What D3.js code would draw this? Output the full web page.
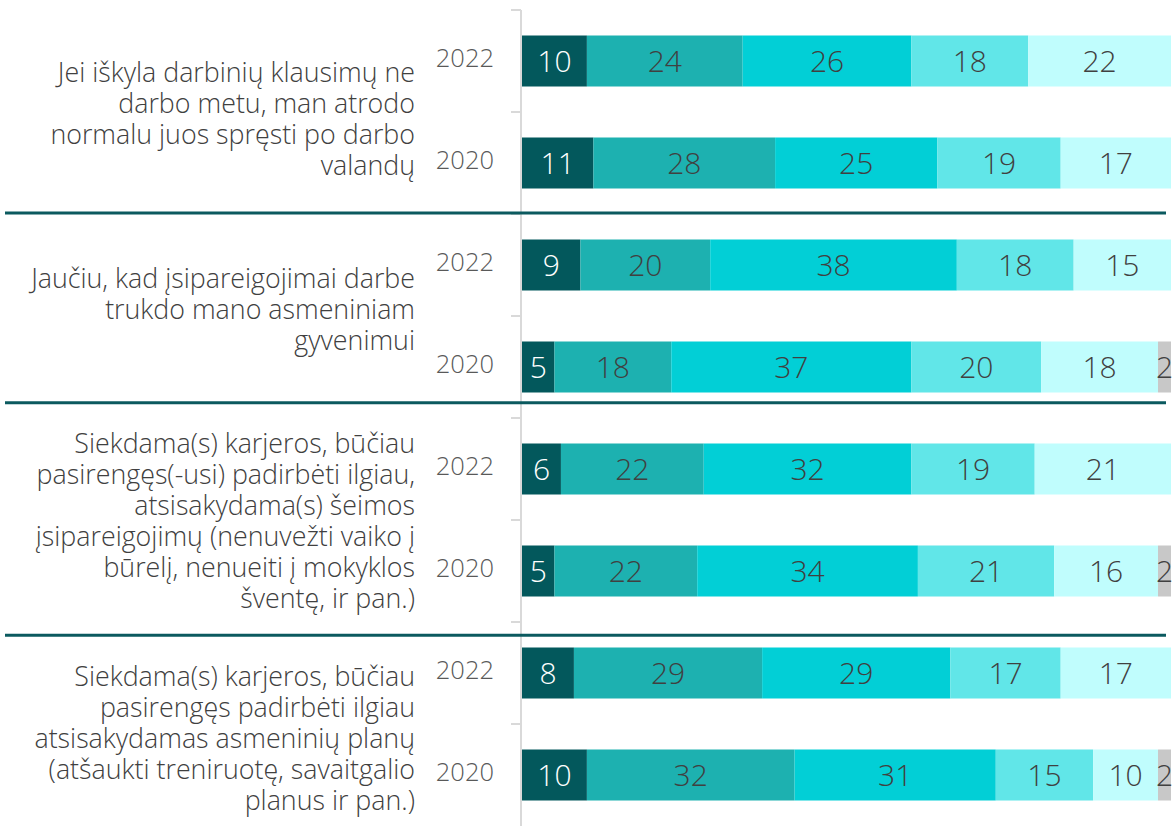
<!DOCTYPE html>
<html>
<head>
<meta charset="utf-8">
<script src="https://cdn.jsdelivr.net/npm/d3@7"></script>
<style>
    html, body { margin: 0; padding: 0; background: #fff; overflow: hidden; }
    text { font-family: "Segoe UI", "Open Sans", "Noto Sans", sans-serif; font-weight: 300; }
</style>
</head>
<body>
<div id="chart"></div>
<script>
// Statements (one per group, already broken into lines as in the picture)
const statements = [
    ["Jei iškyla darbinių klausimų ne", "darbo metu, man atrodo", "normalu juos spręsti po darbo", "valandų"],
    ["Jaučiu, kad įsipareigojimai darbe", "trukdo mano asmeniniam", "gyvenimui"],
    ["Siekdama(s) karjeros, būčiau", "pasirengęs(-usi) padirbėti ilgiau,", "atsisakydama(s) šeimos", "įsipareigojimų (nenuvežti vaiko į", "būrelį, nenueiti į mokyklos", "šventę, ir pan.)"],
    ["Siekdama(s) karjeros, būčiau", "pasirengęs padirbėti ilgiau", "atsisakydamas asmeninių planų", "(atšaukti treniruotę, savaitgalio", "planus ir pan.)"]
];
const years = ["2022", "2020"];

// Stacked segment values, one entry per bar (group1-2022, group1-2020, group2-2022, ...)
const seg1 = [10, 11, 9, 5, 6, 5, 8, 10];
const seg2 = [24, 28, 20, 18, 22, 22, 29, 32];
const seg3 = [26, 25, 38, 37, 32, 34, 29, 31];
const seg4 = [18, 19, 18, 20, 19, 21, 17, 15];
const seg5 = [22, 17, 15, 18, 21, 16, 17, 10];
const seg6 = [0, 0, 0, 2, 0, 2, 0, 2];

const W = 1176, H = 826;
const colors = ["#03585c", "#1db1b0", "#02cfd6", "#61e6e8", "#c0fdfd", "#c8c8c8"];
const keys = ["s1", "s2", "s3", "s4", "s5", "s6"];

// bars as rows
const rows = seg1.map((v, i) => ({
    id: "r" + i,
    group: Math.floor(i / 2),
    year: years[i % 2],
    s1: seg1[i], s2: seg2[i], s3: seg3[i], s4: seg4[i], s5: seg5[i], s6: seg6[i]
}));

const svg = d3.select("#chart").append("svg")
    .attr("width", W)
    .attr("height", H);

const x = d3.scaleLinear().domain([0, 100]).range([522, 1171]);
const y = d3.scaleBand().domain(rows.map(d => d.id)).range([10, 826]).paddingInner(0.5).paddingOuter(0.25);
const step = y.step();

// axis line + ticks between bars
const axisG = svg.append("g");
axisG.append("line")
    .attr("x1", 521).attr("x2", 521)
    .attr("y1", 10).attr("y2", H)
    .attr("stroke", "#d9d9d9").attr("stroke-width", 2);
axisG.selectAll(".tick")
    .data(d3.range(rows.length))
    .enter().append("line")
    .attr("class", "tick")
    .attr("x1", 511).attr("x2", 521)
    .attr("y1", i => 10 + i * step).attr("y2", i => 10 + i * step)
    .attr("stroke", "#d9d9d9").attr("stroke-width", 2);

// stacked bars
const stacked = d3.stack().keys(keys)(rows);
const layer = svg.selectAll(".layer")
    .data(stacked).enter()
    .append("g")
    .attr("class", "layer")
    .attr("fill", (d, i) => colors[i]);

layer.selectAll("rect")
    .data(d => d.filter(p => p[1] > p[0]))
    .enter().append("rect")
    .attr("x", d => x(d[0]))
    .attr("y", d => y(d.data.id))
    .attr("width", d => x(d[1]) - x(d[0]))
    .attr("height", y.bandwidth());

// value labels
stacked.forEach((s, si) => {
    svg.append("g").selectAll("text")
        .data(s.filter(p => p[1] > p[0]))
        .enter().append("text")
        .attr("x", d => (x(d[0]) + x(d[1])) / 2)
        .attr("y", d => y(d.data.id) + y.bandwidth() / 2 + 11)
        .attr("text-anchor", "middle")
        .attr("font-size", 30)
        .attr("fill", si === 0 ? "#ffffff" : "#404040")
        .text(d => d[1] - d[0]);
});

// year labels
svg.append("g").selectAll("text")
    .data(rows).enter()
    .append("text")
    .attr("x", 494)
    .attr("y", d => y(d.id) + y.bandwidth() / 2 + 6)
    .attr("text-anchor", "end")
    .attr("font-size", 25.5)
    .attr("fill", "#595959")
    .text(d => d.year);

// statement labels, right aligned, roughly centred on their pair of bars
const labelShift = [6, -7, 0, 14];
const lineH = 31;
statements.forEach((lines, g) => {
    const mid = 10 + (g * 2 + 1) * step + labelShift[g];
    const t = svg.append("text")
        .attr("text-anchor", "end")
        .attr("font-size", 26.8)
        .attr("fill", "#404040");
    lines.forEach((ln, k) => {
        t.append("tspan")
            .attr("x", 415)
            .attr("y", mid + (k - (lines.length - 1) / 2) * lineH + 10)
            .text(ln);
    });
});

// group separators (placed by hand in the original, in bar-step units)
const sepAt = [1.99, 3.85, 6.13];
svg.append("g").selectAll("line")
    .data(sepAt).enter()
    .append("line")
    .attr("x1", 5).attr("x2", 1166)
    .attr("y1", d => 10 + d * step).attr("y2", d => 10 + d * step)
    .attr("stroke", "#0b5a5f").attr("stroke-width", 3);
</script>
</body>
</html>
